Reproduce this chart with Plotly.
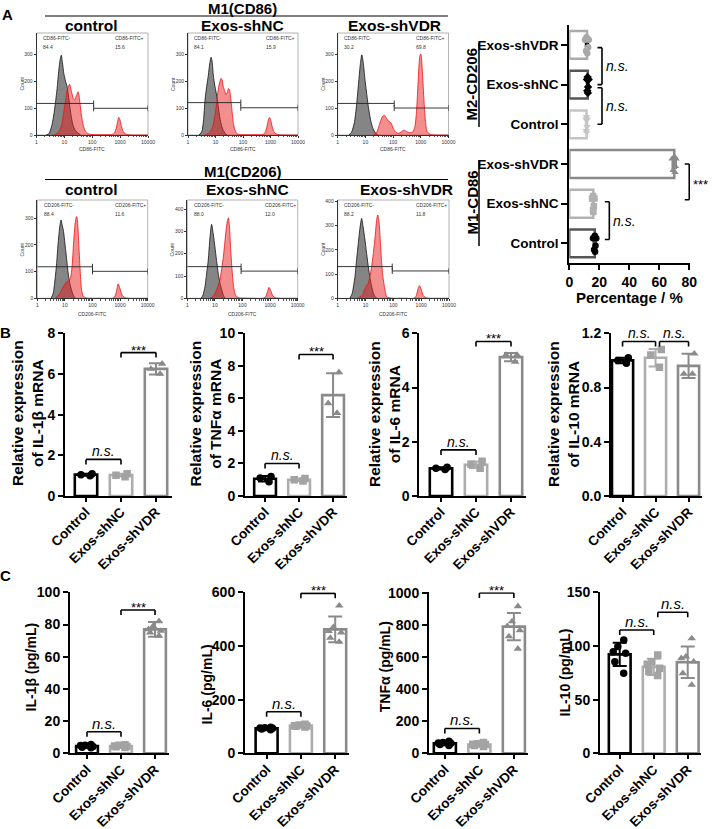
import numpy as np
import plotly.graph_objects as go

W, H = 712, 829
FONT = "Liberation Sans, Arial, sans-serif"

# ============================ DATA ============================
group_names = ["Control", "Exos-shNC", "Exos-shVDR"]
flow_titles = ["control", "Exos-shNC", "Exos-shVDR"]

# --- Flow cytometry histograms: channel in decades (log10 FITC), counts ---
cd86_ctrl_iso_dec = [0.35, 0.45, 0.5, 0.56, 0.62, 0.68, 0.74, 0.8, 0.85, 0.89, 0.93, 0.98, 1.04, 1.1, 1.16, 1.21, 1.27, 1.33, 1.4, 1.48, 1.58]
cd86_ctrl_iso_cnt = [0, 5, 18, 40, 74, 120, 173, 240, 280, 296, 268, 228, 200, 179, 135, 93, 55, 30, 16, 8, 0]
cd86_ctrl_stn_dec = [0.6, 0.7, 0.8, 0.87, 0.92, 0.98, 1.04, 1.1, 1.15, 1.19, 1.23, 1.27, 1.32, 1.36, 1.41, 1.45, 1.49, 1.52, 1.56, 1.61, 1.68, 1.75, 1.85, 1.95, 2.2, 2.5, 2.72, 2.8, 2.86, 2.91, 2.95, 2.99, 3.04, 3.1, 3.18, 3.28, 3.5, 4.0]
cd86_ctrl_stn_cnt = [0, 3, 12, 28, 43, 86, 125, 165, 182, 188, 170, 155, 135, 130, 140, 150, 160, 150, 118, 74, 35, 15, 5, 2, 1, 1, 2, 8, 25, 50, 65, 58, 35, 15, 5, 1, 0, 0]

cd86_nc_iso_dec = [0.4, 0.5, 0.56, 0.62, 0.68, 0.74, 0.79, 0.84, 0.88, 0.92, 0.98, 1.04, 1.1, 1.16, 1.22, 1.28, 1.35, 1.42]
cd86_nc_iso_cnt = [0, 12, 50, 130, 180, 222, 265, 288, 270, 222, 180, 148, 105, 63, 35, 18, 6, 0]
cd86_nc_stn_dec = [0.6, 0.7, 0.8, 0.88, 0.95, 1.04, 1.1, 1.16, 1.2, 1.24, 1.28, 1.33, 1.38, 1.43, 1.47, 1.51, 1.56, 1.6, 1.65, 1.71, 1.77, 1.85, 2.0, 2.4, 2.72, 2.8, 2.87, 2.92, 2.96, 3.0, 3.05, 3.12, 3.2, 3.3, 3.6, 4.0]
cd86_nc_stn_cnt = [0, 3, 12, 25, 55, 117, 170, 198, 210, 204, 180, 165, 150, 158, 172, 168, 130, 90, 43, 18, 6, 2, 1, 1, 2, 8, 30, 55, 65, 58, 35, 12, 4, 1, 0, 0]

cd86_vdr_iso_dec = [0.4, 0.5, 0.6, 0.68, 0.76, 0.82, 0.87, 0.92, 0.98, 1.05, 1.12, 1.2, 1.28, 1.36, 1.45]
cd86_vdr_iso_cnt = [0, 10, 45, 110, 200, 265, 297, 270, 210, 150, 95, 50, 22, 8, 0]
cd86_vdr_stn_dec = [1.3, 1.4, 1.48, 1.56, 1.63, 1.69, 1.76, 1.85, 1.93, 2.0, 2.1, 2.2, 2.3, 2.4, 2.5, 2.6, 2.7, 2.78, 2.84, 2.89, 2.93, 2.97, 3.0, 3.03, 3.07, 3.12, 3.17, 3.23, 3.35, 3.6, 4.0]
cd86_vdr_stn_cnt = [0, 8, 30, 55, 70, 73, 62, 50, 44, 25, 10, 6, 12, 18, 12, 8, 10, 28, 80, 170, 250, 295, 300, 280, 210, 120, 50, 12, 2, 0, 0]

cd206_ctrl_iso_dec = [0.5, 0.58, 0.64, 0.7, 0.74, 0.79, 0.83, 0.86, 0.9, 0.95, 1.0, 1.06, 1.12, 1.18, 1.24, 1.3, 1.38]
cd206_ctrl_iso_cnt = [0, 20, 69, 130, 187, 245, 280, 293, 275, 250, 206, 150, 94, 55, 31, 12, 0]
cd206_ctrl_stn_dec = [0.65, 0.8, 0.95, 1.05, 1.12, 1.2, 1.26, 1.31, 1.36, 1.4, 1.43, 1.46, 1.5, 1.55, 1.6, 1.66, 1.75, 1.9, 2.3, 2.72, 2.8, 2.86, 2.93, 3.0, 3.07, 3.15, 3.3, 4.0]
cd206_ctrl_stn_cnt = [0, 15, 45, 60, 63, 75, 120, 200, 270, 300, 306, 285, 210, 110, 35, 8, 2, 0, 0, 0, 5, 22, 54, 35, 12, 3, 0, 0]

cd206_nc_iso_dec = [0.5, 0.57, 0.64, 0.7, 0.76, 0.82, 0.88, 0.94, 1.0, 1.06, 1.12, 1.18, 1.25, 1.31, 1.37]
cd206_nc_iso_cnt = [0, 15, 52, 110, 172, 270, 332, 290, 231, 170, 112, 70, 37, 12, 0]
cd206_nc_stn_dec = [0.8, 0.9, 1.0, 1.06, 1.12, 1.18, 1.25, 1.31, 1.36, 1.4, 1.45, 1.49, 1.53, 1.57, 1.62, 1.67, 1.72, 1.77, 1.85, 2.0, 2.4, 2.75, 2.84, 2.91, 2.96, 3.02, 3.1, 3.2, 3.4, 4.0]
cd206_nc_stn_cnt = [0, 5, 20, 37, 58, 82, 135, 190, 250, 300, 345, 361, 320, 222, 130, 60, 25, 10, 3, 1, 0, 0, 8, 30, 49, 35, 10, 2, 0, 0]

cd206_vdr_iso_dec = [0.44, 0.52, 0.62, 0.68, 0.74, 0.8, 0.86, 0.92, 0.98, 1.04, 1.1, 1.16, 1.22, 1.28, 1.34, 1.42]
cd206_vdr_iso_cnt = [0, 20, 89, 160, 227, 290, 330, 290, 241, 185, 131, 85, 48, 22, 6, 0]
cd206_vdr_stn_dec = [0.7, 0.8, 0.9, 0.98, 1.05, 1.1, 1.16, 1.22, 1.28, 1.32, 1.36, 1.4, 1.44, 1.47, 1.5, 1.54, 1.58, 1.63, 1.68, 1.76, 1.85, 2.0, 2.4, 2.74, 2.82, 2.88, 2.94, 3.0, 3.07, 3.15, 3.3, 4.0]
cd206_vdr_stn_cnt = [0, 5, 15, 40, 55, 62, 90, 131, 185, 227, 275, 325, 344, 330, 296, 220, 145, 85, 48, 6, 2, 0, 0, 0, 10, 35, 52, 38, 12, 3, 0, 0]

cd86_neg_pct = [84.4, 84.1, 30.2]
cd86_pos_pct = [15.6, 15.9, 69.8]
cd206_neg_pct = [88.4, 88.0, 88.2]
cd206_pos_pct = [11.6, 12.0, 11.8]
cd86_gate_dec = [2.05, 1.92, 2.04]
cd206_gate_dec = [2.0, 1.95, 1.96]
cd86_gate_neg_cnt = [117, 120, 117]
cd86_gate_pos_cnt = [99, 101, 100]
cd206_gate_neg_cnt = [118, 142, 131]
cd206_gate_pos_cnt = [101, 122, 113]
cd86_count_max = [378, 378, 378]
cd206_count_max = [368, 441, 406]
fitc_tickvals = [1, 10, 100, 1000, 10000]
fitc_ticktext = ["1", "10", "100", "1000", "10000"]

# --- Panel A right: percentage of M1-CD86 / M2-CD206 positive cells ---
pct_keys = ["M1 Control", "M1 Exos-shNC", "M1 Exos-shVDR", "M2 Control", "M2 Exos-shNC", "M2 Exos-shVDR"]
pct_labels = ["Control", "Exos-shNC", "Exos-shVDR", "Control", "Exos-shNC", "Exos-shVDR"]
pct_mean = [17.0, 16.0, 70.0, 11.5, 12.3, 11.8]
pct_sd = [0.9, 0.6, 1.2, 0.5, 0.6, 0.8]
pct_points = [
    [15.8, 16.5, 17.0, 17.5, 18.0, 17.2],
    [15.2, 15.8, 16.0, 16.4, 16.8, 15.9],
    [68.5, 69.2, 70.0, 70.5, 71.2, 70.8],
    [11.0, 11.3, 11.5, 11.8, 12.0, 11.4],
    [11.8, 12.2, 12.5, 12.9, 12.0, 12.4],
    [10.5, 11.2, 12.0, 12.6, 13.0, 11.5],
]
# brackets: (from, to, at percentage, label)
pct_brackets = [(4.93, 4.0, 21.8, "n.s."), (3.92, 3.0, 21.8, "n.s."),
                (2.0, 1.1, 80.0, "***"), (1.05, 0.1, 26.7, "n.s.")]

# --- Panel B: relative mRNA expression (n=3) ---
il1b_mrna_mean = [1.05, 1.03, 6.25]
il1b_mrna_sd = [0.05, 0.07, 0.28]
il1b_mrna_pts = [[1.0, 1.05, 1.1], [0.95, 1.02, 1.1], [6.5, 6.0, 6.25]]
tnfa_mrna_mean = [1.06, 1.0, 6.2]
tnfa_mrna_sd = [0.17, 0.08, 1.35]
tnfa_mrna_pts = [[0.88, 1.1, 1.2], [0.92, 1.0, 1.07], [7.6, 5.7, 5.1]]
il6_mrna_mean = [1.02, 1.15, 5.12]
il6_mrna_sd = [0.04, 0.12, 0.15]
il6_mrna_pts = [[0.98, 1.02, 1.06], [1.02, 1.17, 1.28], [5.2, 5.2, 4.95]]
il10_mrna_mean = [1.0, 1.02, 0.96]
il10_mrna_sd = [0.02, 0.065, 0.09]
il10_mrna_pts = [[0.98, 1.0, 1.02], [1.08, 1.04, 0.95], [1.05, 0.9, 0.9]]

# --- Panel C: ELISA (n=6) ---
il1b_pg_mean = [4.5, 4.5, 77.0]
il1b_pg_sd = [1.0, 0.9, 4.6]
il1b_pg_pts = [[3.5, 4.2, 4.8, 5.5, 3.8, 5.0], [3.6, 4.0, 4.6, 5.3, 4.2, 5.0], [82, 79, 77, 75, 73, 76]]
il6_pg_mean = [93.0, 103.0, 462.0]
il6_pg_sd = [4.0, 4.0, 48.0]
il6_pg_pts = [[88, 91, 93, 95, 97, 94], [98, 101, 103, 105, 108, 102], [550, 470, 450, 430, 415, 455]]
tnfa_pg_mean = [62.0, 55.0, 790.0]
tnfa_pg_sd = [12.0, 12.0, 85.0]
tnfa_pg_pts = [[48, 55, 62, 68, 75, 64], [42, 48, 55, 60, 68, 57], [917, 822, 793, 766, 729, 652]]
il10_pg_mean = [92.2, 80.5, 84.8]
il10_pg_sd = [10.8, 7.5, 14.7]
il10_pg_pts = [[105.6, 99.4, 94.7, 93.2, 85.4, 74.5], [91.6, 85.4, 82.9, 79.2, 76.1, 72.4], [107, 90, 88.5, 85.4, 74.5, 63.7]]

# significance brackets: (group i, group j, height, label)
il1b_mrna_sig = [(0, 1, 1.8, "n.s."), (1, 2, 7.05, "***")]
tnfa_mrna_sig = [(0, 1, 2.0, "n.s."), (1, 2, 8.7, "***")]
il6_mrna_sig = [(0, 1, 1.7, "n.s."), (1, 2, 5.7, "***")]
il10_mrna_sig = [(0, 1, 1.14, "n.s."), (1.12, 2, 1.14, "n.s.")]
il1b_pg_sig = [(0, 1, 13.4, "n.s."), (1, 2, 89, "***")]
il6_pg_sig = [(0, 1, 155, "n.s."), (1, 2, 596, "***")]
tnfa_pg_sig = [(0, 1, 155, "n.s."), (1, 2, 1000, "***")]
il10_pg_sig = [(0, 1, 114.9, "n.s."), (1.12, 2, 131.4, "n.s.")]

# ============================ STYLE ============================
grp_line = ["#000000", "#adadad", "#8a8a8a"]
grp_pt = ["#000000", "#a3a3a3", "#8a8a8a"]
grp_sym = ["circle", "square", "triangle-up"]
pct_line = ["#555555", "#b3b3b3", "#8a8a8a", "#c4c4c4", "#555555", "#ababab"]
pct_pt = ["#000000", "#b0b0b0", "#8a8a8a", "#c4c4c4", "#000000", "#a8a8a8"]
pct_sym = ["circle", "square", "triangle-up", "triangle-down", "diamond", "circle"]
pct_err = ["#555555", "#b3b3b3", "#8a8a8a", "#c4c4c4", "#000000", "#000000"]

fig = go.Figure()
L = dict(width=W, height=H, margin=dict(l=0, r=0, t=0, b=0, pad=0, autoexpand=False),
         paper_bgcolor="white", plot_bgcolor="white", showlegend=False, barmode="overlay",
         font=dict(family=FONT, color="black"))
shapes, annos = [], []
n_ax = [0]


def add_axes(xpx, ypx, xa, ya):
    n_ax[0] += 1
    s = "" if n_ax[0] == 1 else str(n_ax[0])
    L["xaxis" + s] = dict(domain=[xpx[0] / W, xpx[1] / W], anchor="y" + s, automargin=False, **xa)
    L["yaxis" + s] = dict(domain=[1 - ypx[1] / H, 1 - ypx[0] / H], anchor="x" + s, automargin=False, **ya)
    return "x" + s, "y" + s


def text(px, py, t, size, bold=False, angle=0, xanchor="center", yanchor="middle", color="black"):
    annos.append(dict(x=px / W, y=1 - py / H, xref="paper", yref="paper", text=t, showarrow=False,
                      font=dict(size=size, weight="bold" if bold else "normal", color=color, family=FONT),
                      textangle=angle, xanchor=xanchor, yanchor=yanchor))


def pline(x0, y0, x1, y1, w=1.0, c="black"):
    shapes.append(dict(type="line", xref="paper", yref="paper", x0=x0 / W, x1=x1 / W,
                       y0=1 - y0 / H, y1=1 - y1 / H, line=dict(color=c, width=w)))


# ============================ PANEL A: FLOW ============================
flow_rows = [
    dict(marker="CD86", header="M1(CD86)",
         iso=[(cd86_ctrl_iso_dec, cd86_ctrl_iso_cnt), (cd86_nc_iso_dec, cd86_nc_iso_cnt), (cd86_vdr_iso_dec, cd86_vdr_iso_cnt)],
         stn=[(cd86_ctrl_stn_dec, cd86_ctrl_stn_cnt), (cd86_nc_stn_dec, cd86_nc_stn_cnt), (cd86_vdr_stn_dec, cd86_vdr_stn_cnt)],
         neg=cd86_neg_pct, pos=cd86_pos_pct, gate=cd86_gate_dec, gneg=cd86_gate_neg_cnt,
         gpos=cd86_gate_pos_cnt, ymax=cd86_count_max,
         geom=dict(xs=[(36.5, 148), (188, 298), (337.7, 448.5)], y=(33, 135), head_y=8.5, line_y=16,
                   sub_y=25.5, sub_x=[91, 243, 394], xt_y=149)),
    dict(marker="CD206", header="M1(CD206)",
         iso=[(cd206_ctrl_iso_dec, cd206_ctrl_iso_cnt), (cd206_nc_iso_dec, cd206_nc_iso_cnt), (cd206_vdr_iso_dec, cd206_vdr_iso_cnt)],
         stn=[(cd206_ctrl_stn_dec, cd206_ctrl_stn_cnt), (cd206_nc_stn_dec, cd206_nc_stn_cnt), (cd206_vdr_stn_dec, cd206_vdr_stn_cnt)],
         neg=cd206_neg_pct, pos=cd206_pos_pct, gate=cd206_gate_dec, gneg=cd206_gate_neg_cnt,
         gpos=cd206_gate_pos_cnt, ymax=cd206_count_max,
         geom=dict(xs=[(37.3, 147.7), (187.3, 297.7), (337.7, 449)], y=(200, 298.3), head_y=172, line_y=179.5,
                   sub_y=189.5, sub_x=[91, 247, 406], xt_y=314)),
]

flow_ax_font = dict(size=5, color="#333333", family=FONT)
for row in flow_rows:
    g = row["geom"]
    text(243, g["head_y"], row["header"], 15, bold=True)
    pline(45, g["line_y"], 448, g["line_y"], 1.2)
    for k in range(3):
        text(g["sub_x"][k], g["sub_y"], flow_titles[k], 15.5, bold=True)
        xa = dict(type="log", range=[0, 4], tickmode="array", tickvals=fitc_tickvals, ticktext=fitc_ticktext,
                  showline=True, linecolor="#333333", linewidth=1, ticks="outside", ticklen=2, tickwidth=0.8,
                  tickcolor="#333333", tickfont=flow_ax_font, showgrid=False, zeroline=False,
                  minor=dict(dtick="D1", ticks="outside", ticklen=1.2, tickcolor="#555555", showgrid=False))
        ya = dict(range=[0, row["ymax"][k]], dtick=100, showline=True, linecolor="#333333", linewidth=1,
                  ticks="outside", ticklen=2, tickwidth=0.8, tickcolor="#333333", tickfont=flow_ax_font,
                  showgrid=False, zeroline=False)
        xn, yn = add_axes(g["xs"][k], g["y"], xa, ya)
        idec, icnt = row["iso"][k]
        sdec, scnt = row["stn"][k]
        fig.add_trace(go.Scatter(x=10 ** np.array(idec), y=icnt, mode="lines", fill="tozeroy",
                                 line=dict(color="#111111", width=0.8, shape="spline", smoothing=0.6),
                                 fillcolor="rgba(112,112,112,0.85)", xaxis=xn, yaxis=yn, hoverinfo="skip"))
        fig.add_trace(go.Scatter(x=10 ** np.array(sdec), y=scnt, mode="lines", fill="tozeroy",
                                 line=dict(color="#ee1111", width=0.8, shape="spline", smoothing=0.6),
                                 fillcolor="rgba(232,30,30,0.5)", xaxis=xn, yaxis=yn, hoverinfo="skip"))
        # frame
        shapes.append(dict(type="rect", xref=xn + " domain", yref=yn + " domain", x0=0, x1=1, y0=0, y1=1,
                           line=dict(color="#a0a0a0", width=0.8), layer="below"))
        # gates
        gx = 10 ** row["gate"][k]
        gl = dict(color="#222222", width=0.9)
        shapes.append(dict(type="line", xref=xn, yref=yn, x0=1, x1=gx, y0=row["gneg"][k], y1=row["gneg"][k], line=gl))
        shapes.append(dict(type="line", xref=xn, yref=yn, x0=gx, x1=10000, y0=row["gpos"][k], y1=row["gpos"][k], line=gl))
        for (xx, yy) in [(gx, row["gneg"][k]), (gx, row["gpos"][k]), (10000, row["gpos"][k])]:
            shapes.append(dict(type="line", xref=xn, yref=yn, x0=xx, x1=xx, ysizemode="pixel", yanchor=yy,
                               y0=-3, y1=3, line=gl))
        # labels inside
        tf = dict(size=5, color="#333333", family=FONT)
        for (xd, yd, t) in [(0.04, 0.95, row["marker"] + "-FITC-"), (0.04, 0.86, f"{row['neg'][k]:.1f}"),
                            (0.69, 0.95, row["marker"] + "-FITC+"), (0.69, 0.86, f"{row['pos'][k]:.1f}")]:
            annos.append(dict(x=xd, y=yd, xref=xn + " domain", yref=yn + " domain", text=t, showarrow=False,
                              xanchor="left", yanchor="middle", font=tf))
        # axis titles
        x0p, x1p = g["xs"][k]
        text((x0p + x1p) / 2, g["xt_y"], row["marker"] + "-FITC", 5, color="#333333")
        text(x0p - 15, (g["y"][0] + g["y"][1]) / 2, "Count", 5, angle=-90, color="#333333")

# ============================ PANEL A: RIGHT BARS ============================
xa = dict(range=[0, 80.5], tickvals=[0, 20, 40, 60, 80], showline=True, linecolor="black", linewidth=2,
          ticks="outside", ticklen=5, tickwidth=2, tickcolor="black", showgrid=False, zeroline=False,
          tickfont=dict(size=14, weight="bold", family=FONT))
ya = dict(type="category", categoryorder="array", categoryarray=pct_keys, tickvals=pct_keys,
          ticktext=pct_labels, range=[-0.5, 5.5], showline=True, linecolor="black", linewidth=2,
          ticks="outside", ticklen=6, tickwidth=2, tickcolor="black", showgrid=False, zeroline=False,
          tickfont=dict(size=13.5, weight="bold", family=FONT))
xn, yn = add_axes((569.3, 690), (25, 263.3), xa, ya)
for i in range(6):
    fig.add_trace(go.Bar(y=[pct_keys[i]], x=[pct_mean[i]], orientation="h", width=0.7,
                         marker=dict(color="white", line=dict(color=pct_line[i], width=2.5)),
                         error_x=dict(type="data", array=[pct_sd[i]], color=pct_err[i], thickness=2, width=5),
                         xaxis=xn, yaxis=yn, hoverinfo="skip"))
    fig.add_trace(go.Box(y=[pct_keys[i]] * len(pct_points[i]), x=pct_points[i], orientation="h",
                         boxpoints="all", jitter=0.9, pointpos=0, width=0.55,
                         line=dict(width=0, color="rgba(0,0,0,0)"), fillcolor="rgba(0,0,0,0)",
                         marker=dict(color=pct_pt[i], symbol=pct_sym[i], size=6.5),
                         xaxis=xn, yaxis=yn, hoverinfo="skip"))
for (a, b, h, lab) in pct_brackets:
    bl = dict(color="black", width=1.6)
    shapes.append(dict(type="line", xref=xn, yref=yn, x0=h, x1=h, y0=a, y1=b, line=bl))
    for yy in (a, b):
        shapes.append(dict(type="line", xref=xn, yref=yn, y0=yy, y1=yy, xsizemode="pixel", xanchor=h,
                           x0=-4.5, x1=0, line=bl))
    annos.append(dict(x=h, y=(a + b) / 2, xref=xn, yref=yn, text=lab, showarrow=False, xanchor="left",
                      yanchor="middle", xshift=2, yshift=(-3 if lab == "***" else 0),
                      font=dict(size=14 if lab != "***" else 13, style="italic" if lab != "***" else "normal",
                                family=FONT)))
text(629.5, 297, "Percentage / %", 15, bold=True)
text(471.5, 84, "M2-CD206", 15, bold=True, angle=-90)
text(471.5, 203, "M1-CD86", 15, bold=True, angle=-90)
pline(479, 43, 479, 127, 1.5)
pline(479, 160, 479, 246, 1.5)

# ============================ PANELS B & C ============================
bar_panels = [
    (il1b_mrna_mean, il1b_mrna_sd, il1b_mrna_pts, il1b_mrna_sig, 8, 2, "Relative expression<br>of IL-1β mRNA"),
    (tnfa_mrna_mean, tnfa_mrna_sd, tnfa_mrna_pts, tnfa_mrna_sig, 10, 2, "Relative expression<br>of TNFα mRNA"),
    (il6_mrna_mean, il6_mrna_sd, il6_mrna_pts, il6_mrna_sig, 6, 2, "Relative expression<br>of IL-6 mRNA"),
    (il10_mrna_mean, il10_mrna_sd, il10_mrna_pts, il10_mrna_sig, 1.2, 0.4, "Relative expression<br>of IL-10 mRNA"),
    (il1b_pg_mean, il1b_pg_sd, il1b_pg_pts, il1b_pg_sig, 100, 20, "IL-1β (pg/mL)"),
    (il6_pg_mean, il6_pg_sd, il6_pg_pts, il6_pg_sig, 600, 200, "IL-6 (pg/mL)"),
    (tnfa_pg_mean, tnfa_pg_sd, tnfa_pg_pts, tnfa_pg_sig, 1000, 200, "TNFα (pg/mL)"),
    (il10_pg_mean, il10_pg_sd, il10_pg_pts, il10_pg_sig, 150, 50, "IL-10 (pg/mL)"),
]
# geometry: (axis x px, px per group, range start, range end, y top px, y bottom px, title x, title y)
bar_geom = [
    (65, 35, -0.6, 2.45, 333.3, 496, 27.5, 413.5),
    (245, 34, -0.59, 2.4, 333.3, 496, 205, 413.5),
    (419.3, 35, -0.62, 2.42, 333.3, 496, 384, 414),
    (611, 33, -0.35, 2.4, 333.3, 496, 563, 414),
    (70, 34, -0.5, 2.4, 592.3, 753.3, 30.5, 667),
    (245, 34.3, -0.63, 2.4, 592.3, 753.3, 206.5, 685),
    (429, 34.5, -0.46, 2.4, 592.3, 753.3, 384.5, 666.7),
    (600, 34, -0.58, 2.4, 592.3, 753.3, 564, 672.5),
]
for p, (means, sds, pts, sig, ymax, dt, title) in enumerate(bar_panels):
    ax_px, sp, r0, r1, ytop, ybot, tx, ty = bar_geom[p]
    top = ymax * (1.004 if p == 6 else 1.0)
    xa = dict(type="category", categoryorder="array", categoryarray=group_names, range=[r0, r1],
              showline=True, linecolor="black", linewidth=2, ticks="outside", ticklen=4, tickwidth=2,
              tickcolor="black", tickangle=-45, showgrid=False, zeroline=False, ticklabelstandoff=-3,
              tickfont=dict(size=13.5, weight="bold", family=FONT))
    ya = dict(range=[0, top], dtick=dt, tick0=0, showline=True, linecolor="black", linewidth=2,
              ticks="outside", ticklen=5, tickwidth=2, tickcolor="black", showgrid=False, zeroline=False,
              tickfont=dict(size=14, weight="bold", family=FONT),
              tickformat=(".1f" if dt < 1 else "d"))
    xn, yn = add_axes((ax_px, ax_px + (r1 - r0) * sp), (ytop, ybot), xa, ya)
    for gi in range(3):
        fig.add_trace(go.Bar(x=[group_names[gi]], y=[means[gi]], width=0.64,
                             marker=dict(color="white", line=dict(color=grp_line[gi], width=2.6)),
                             error_y=dict(type="data", array=[sds[gi]], color=grp_line[gi], thickness=2, width=7),
                             xaxis=xn, yaxis=yn, hoverinfo="skip"))
        fig.add_trace(go.Box(x=[group_names[gi]] * len(pts[gi]), y=pts[gi], boxpoints="all", jitter=0.9,
                             pointpos=0, width=0.5, line=dict(width=0, color="rgba(0,0,0,0)"),
                             fillcolor="rgba(0,0,0,0)",
                             marker=dict(color=grp_pt[gi], symbol=grp_sym[gi], size=7.5),
                             xaxis=xn, yaxis=yn, hoverinfo="skip"))
    for (i, j, h, lab) in sig:
        bl = dict(color="black", width=1.6)
        shapes.append(dict(type="line", xref=xn, yref=yn, x0=i, x1=j, y0=h, y1=h, line=bl))
        for xx in (i, j):
            shapes.append(dict(type="line", xref=xn, yref=yn, x0=xx, x1=xx, ysizemode="pixel", yanchor=h,
                               y0=-5, y1=0, line=bl))
        annos.append(dict(x=(i + j) / 2, y=h, xref=xn, yref=yn, text=lab, showarrow=False,
                          xanchor="center", yanchor="bottom", yshift=(-7 if lab == "***" else -2),
                          font=dict(size=(14 if lab != "***" else 13) if p < 4 else (15 if lab != "***" else 13),
                                    style="italic" if lab != "***" else "normal", family=FONT)))
    text(tx, ty, title, 15.5 if p < 4 else 14, bold=True, angle=-90)

# panel letters
text(7, 15, "A", 15, bold=True)
text(5, 333, "B", 15, bold=True)
text(5, 575, "C", 15, bold=True)

L["shapes"] = shapes
L["annotations"] = annos
fig.update_layout(**L)
fig.write_html("out.html", config={"displayModeBar": False},
               post_script="document.body.style.margin='0';document.body.style.overflow='hidden';")
